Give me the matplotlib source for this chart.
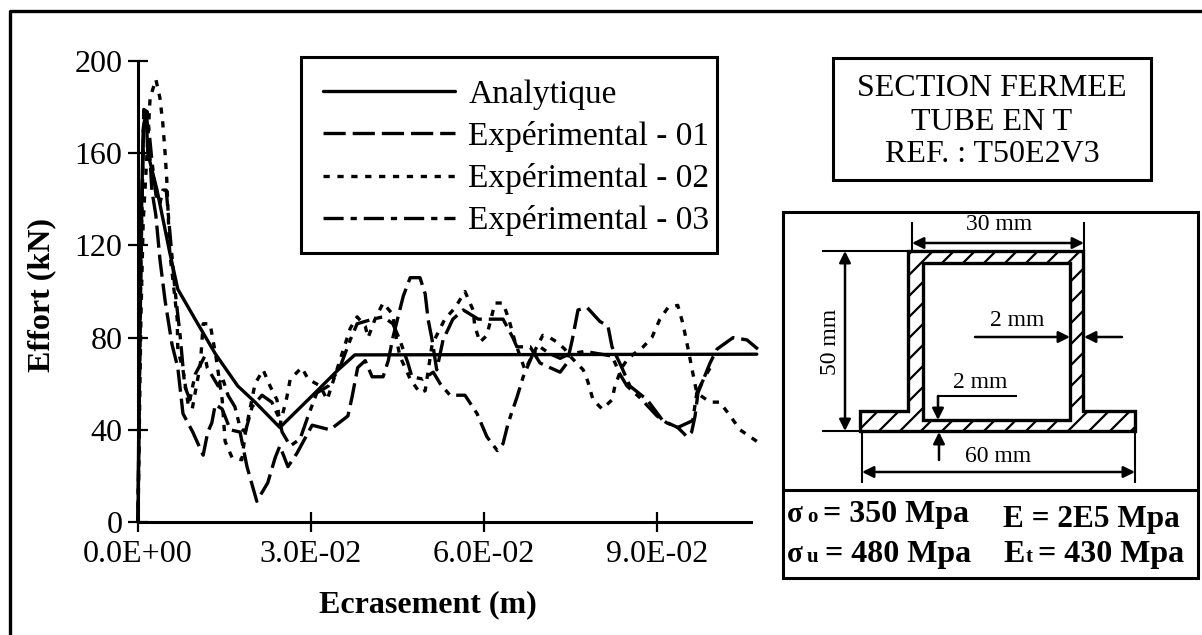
import numpy as np
import matplotlib
matplotlib.use("Agg")
import matplotlib.pyplot as plt
from matplotlib.path import Path
from matplotlib.patches import PathPatch, Rectangle

plt.rcParams["font.family"] = ["Liberation Serif", "DejaVu Serif"]
plt.rcParams["lines.scale_dashes"] = False

# crushing in mm, force in kN
x_ana = [0, 0.3, 0.9, 1.4, 1.7, 3.3, 5.5, 6.9, 9.9, 13.4, 17.3, 20.3, 24.6, 30.7, 34.7, 37.6, 107.3]
y_ana = [0, 96, 170, 178, 160, 144, 117, 101, 88, 73, 59, 52, 41, 56, 66, 72.5, 72.8]

x_exp1 = [0, 0.5, 1.0, 1.4, 1.9, 2.4, 3.1, 3.8, 4.7, 5.9, 6.9, 7.8, 9.5, 11.3, 12.1, 12.8, 13.4, 14.6, 16, 17.7,
          18.9, 20.6, 22.5, 23.8, 24.6, 26, 27.6, 30.2, 33.3, 36.4, 37.1, 38.1, 39.4, 40.6, 42.5, 43.4, 44.2, 45.1,
          46, 47.2, 48.9, 49.8, 50.3, 51, 51.8, 52.9, 54.6, 56.4, 59, 63.3, 65, 65.7, 68, 69.7, 71.4, 73.2, 74.4,
          75.3, 76.3, 77.9, 80.1, 81.5, 82.2, 83.9, 85.3, 88.3, 91, 93.6, 95.2, 96, 96.6, 97.1, 99.2, 100.4, 103.2,
          105.6, 107.5]
y_exp1 = [0, 118, 172, 178, 166, 144, 133, 114, 96, 77, 67, 47, 39, 29, 39, 43, 51, 49, 40, 39,
          24, 9, 17, 28, 33, 24, 30, 42, 40, 46, 54, 67, 70, 63, 63, 70, 80, 89,
          98, 106, 106, 99, 88, 79, 66, 79, 88, 92, 88, 88, 80, 76, 76, 69, 67, 65, 69,
          79, 92, 93, 87, 85, 76, 67, 59, 53, 44, 41, 37, 39, 46, 56, 69, 75, 80,
          79, 75]

x_exp2 = [0, 0.5, 0.9, 2.1, 3.1, 3.8, 4.3, 4.7, 5, 5.5, 6.1, 6.8, 6.9, 7.8, 8.7, 9.4, 10.2, 10.8, 11.3, 12.5, 13.5,
          14.6, 15.1, 16.3, 18, 18.7, 20.3, 21.7, 22.9, 24.1, 24.6, 25.8, 26.4, 28.4, 29.5, 31.6, 32.8, 35.9, 36.8,
          38, 39.4, 39.9, 41.1, 42.5, 44.2, 44.7, 45.4, 47.2, 48.9, 49.8, 51, 53.2, 55, 56.7, 58.1, 58.4, 59.3, 60.5,
          61.9, 63.3, 64.3, 65.4, 67.1, 70.2, 71.4, 72.7, 74, 74.9, 77.2, 78, 78.9, 80.5, 82.2, 82.7, 83.9, 85, 87.6,
          89.1, 90.5, 91.9, 93.6, 94.5, 95.4, 96.1, 96.9, 99.2, 100.9, 102.7, 104.4, 107.3]
y_exp2 = [0, 88, 130, 184, 192, 184, 173, 160, 148, 117, 104, 88, 75, 66, 51, 49, 60, 68, 86, 86, 72,
          53, 35, 28, 27, 40, 60, 66, 59, 53, 42, 54, 62, 67, 62, 59, 53, 77, 84,
          89, 85, 80, 88, 95, 90, 81, 72, 62, 56, 57, 77, 88, 93, 100, 92, 85, 78, 81,
          95, 95, 88, 78, 66, 81, 80, 78, 75, 72, 66, 61, 53, 49, 53, 59, 67, 71, 76,
          80, 88, 93, 94, 86, 75, 66, 56, 52, 52, 46, 40, 35]

x_exp3 = [0, 0.3, 0.7, 1, 1.6, 2.4, 3.1, 3.8, 4.3, 4.9, 5.2, 6.4, 7.3, 8.1, 9, 9.9, 11.6, 12, 13.9, 14.6, 15.6, 16.8,
          17.7, 18.6, 19.8, 21.5, 23.2, 24.3, 25, 26.4, 28.1, 29.5, 31, 33, 35, 36.8, 38, 40.7, 42.5, 44.2, 45.4,
          46.8, 47.5, 49.4, 51.2, 52.4, 54.1, 56.7, 58.8, 60.5, 62.3, 63.3, 64.2, 65.7, 66.8, 68.5, 69.7, 71.4, 73.2,
          74.9, 77.5, 82.2, 83.6, 84.8, 87, 90, 91.7, 93.6, 96.2, 96.9, 98.1, 99.7]
y_exp3 = [0, 75, 140, 179, 178, 157, 142, 138, 144, 144, 135, 101, 81, 59, 53, 64, 72, 67, 59, 63, 55, 50,
          41, 39, 50, 55, 52, 46, 39, 33, 36, 46, 56, 59, 67, 79, 86, 88, 89, 86, 79,
          69, 63, 62, 65, 60, 55, 55, 47, 37, 31, 34, 43, 54, 63, 73, 76, 73, 71,
          73, 74, 72, 64, 59, 54, 46, 43, 41, 44, 56, 62, 69]

x_ticks = [0, 0.03, 0.06, 0.09]
x_tick_labels = ["0.0E+00", "3.0E-02", "6.0E-02", "9.0E-02"]
y_ticks = [0, 40, 80, 120, 160, 200]
series_names = ["Analytique", "Expérimental - 01", "Expérimental - 02", "Expérimental - 03"]
title_lines = ["SECTION FERMEE", "TUBE EN T", "REF. : T50E2V3"]

W, H = 1202, 635
fig = plt.figure(figsize=(W / 100, H / 100), dpi=100)
ax = fig.add_axes([138 / W, 1 - 522 / H, 613 / W, 461 / H])

# overlay in pixel coords for the boxes and the section sketch
ov = fig.add_axes([0, 0, 1, 1], zorder=3)
ov.set_xlim(0, W)
ov.set_ylim(H, 0)
ov.axis("off")
ov.patch.set_alpha(0)

styles = ["-", (0, (16, 5)), (0, (4.5, 5.5)), (0, (14.5, 5, 4.5, 5))]
curves = [(x_ana, y_ana), (x_exp1, y_exp1), (x_exp2, y_exp2), (x_exp3, y_exp3)]
for (xs, ys), ls, name in zip(curves, styles, series_names):
    ax.plot(np.array(xs) / 1000, ys, color="black", lw=2.4, ls=ls, label=name,
            clip_on=False, dash_capstyle="butt", solid_capstyle="round", dash_joinstyle="round")

ax.set_xlim(0, 0.1063)
ax.set_ylim(0, 200)
ax.set_xticks(x_ticks)
ax.set_xticklabels(x_tick_labels)
ax.set_yticks(y_ticks)
ax.tick_params(axis="x", direction="inout", length=14.5, width=1.6, labelsize=23, pad=6)
ax.tick_params(axis="y", direction="inout", length=14.5, width=1.6, labelsize=23, pad=4)
for side in ["top", "right"]:
    ax.spines[side].set_visible(False)
for side in ["left", "bottom"]:
    ax.spines[side].set_linewidth(2.2)
ax.set_xlabel("Ecrasement (m)", fontsize=23, fontweight="bold", va="center")
ax.xaxis.set_label_coords(428, 605, transform=ov.transData)
ax.set_ylabel("Effort (kN)", fontsize=23, fontweight="bold", va="center")
ax.yaxis.set_label_coords(42, 295, transform=ov.transData)

leg = ax.legend(loc="upper left", bbox_to_anchor=(303, 59), bbox_transform=ov.transData,
                frameon=False, fontsize=24, handlelength=3.96, handletextpad=0.4,
                labelspacing=0.34, borderpad=0.6, borderaxespad=0)
leg.set_zorder(5)


def box(x0, y0, x1, y1, lw=2.2):
    ov.add_patch(Rectangle((x0, y0), x1 - x0, y1 - y0, fill=False, ec="black", lw=lw))


def line(xs, ys, lw=1.5):
    ov.plot(xs, ys, color="black", lw=lw, solid_capstyle="butt")


def arrow(x0, y0, x1, y1):
    # head at the end point only
    ov.annotate("", xy=(x1, y1), xytext=(x0, y0),
                arrowprops=dict(arrowstyle="-|>", color="black", lw=1.8, mutation_scale=17,
                                shrinkA=0, shrinkB=0))


def arrow2(x0, y0, x1, y1):
    ov.annotate("", xy=(x1, y1), xytext=(x0, y0),
                arrowprops=dict(arrowstyle="<|-|>", color="black", lw=1.8, mutation_scale=17,
                                shrinkA=0, shrinkB=0))


# open page frame, left and top only
line([10, 10, W], [H, 11, 11], lw=2.4)
box(300.5, 57, 717, 253)
box(833, 58, 1151, 180)
box(783, 211.5, 1198, 578)
line([783, 1198], [490, 490], lw=2.2)

for txt, y in zip(title_lines, [89, 122, 154]):
    ov.text(992, y, txt, ha="center", va="center", fontsize=23)

# T section
outer = [(908, 251), (1083, 251), (1083, 411), (1135, 411), (1135, 431), (860, 431), (860, 411), (908, 411), (908, 251)]
inner = [(923, 263), (923, 420), (1070, 420), (1070, 263), (923, 263)]
codes = [Path.MOVETO] + [Path.LINETO] * (len(outer) - 2) + [Path.CLOSEPOLY] \
    + [Path.MOVETO] + [Path.LINETO] * (len(inner) - 2) + [Path.CLOSEPOLY]
section = Path(outer + inner, codes)
patch = PathPatch(section, fc="white", ec="none", zorder=2)
ov.add_patch(patch)
for c in np.arange(1100, 1600, 21):
    hatch, = ov.plot([c - 200, c - 500], [200, 500], color="black", lw=1.6, zorder=3)
    hatch.set_clip_path(patch)
ov.add_patch(PathPatch(section, fc="none", ec="black", lw=2.4, zorder=4))

# dimensions
line([912, 912], [222, 251])
line([1084, 1084], [222, 251])
arrow2(912, 243, 1084, 243)
ov.text(999, 225, "30 mm", ha="center", va="center", fontsize=17)
line([822, 908], [251, 251])
line([822, 860], [431, 431])
arrow2(845, 251, 845, 431)
ov.text(831, 342, "50 mm", ha="center", va="center", rotation=90, fontsize=17)
line([862, 862], [431, 483])
line([1135, 1135], [431, 483])
arrow2(862, 472, 1135, 472)
ov.text(998, 456, "60 mm", ha="center", va="center", fontsize=17)
ov.text(1017, 320, "2 mm", ha="center", va="center", fontsize=17)
arrow(975, 337, 1070, 337)
arrow(1122, 337, 1084, 337)
ov.text(980, 383, "2 mm", ha="center", va="center", fontsize=17)
line([1017, 938, 938], [396, 396, 405])
arrow(938, 396, 938, 420)
arrow(939, 460, 939, 432)

# material properties
bold = dict(fontweight="bold", va="baseline")
for x, y, txt, size in [
    (787, 522, "σ", 21), (807, 522, "o", 15), (823, 522, "= 350 Mpa", 23),
    (787, 562, "σ", 21), (807, 562, "u", 15), (825, 562, "= 480 Mpa", 23),
    (1003, 527, "E = 2E5 Mpa", 22.5),
    (1003, 562, "E", 23), (1026, 562, "t", 15), (1038, 562, "= 430 Mpa", 23),
]:
    ov.text(x, y, txt, fontsize=size, **bold)

fig.savefig("out.png", dpi=100)
